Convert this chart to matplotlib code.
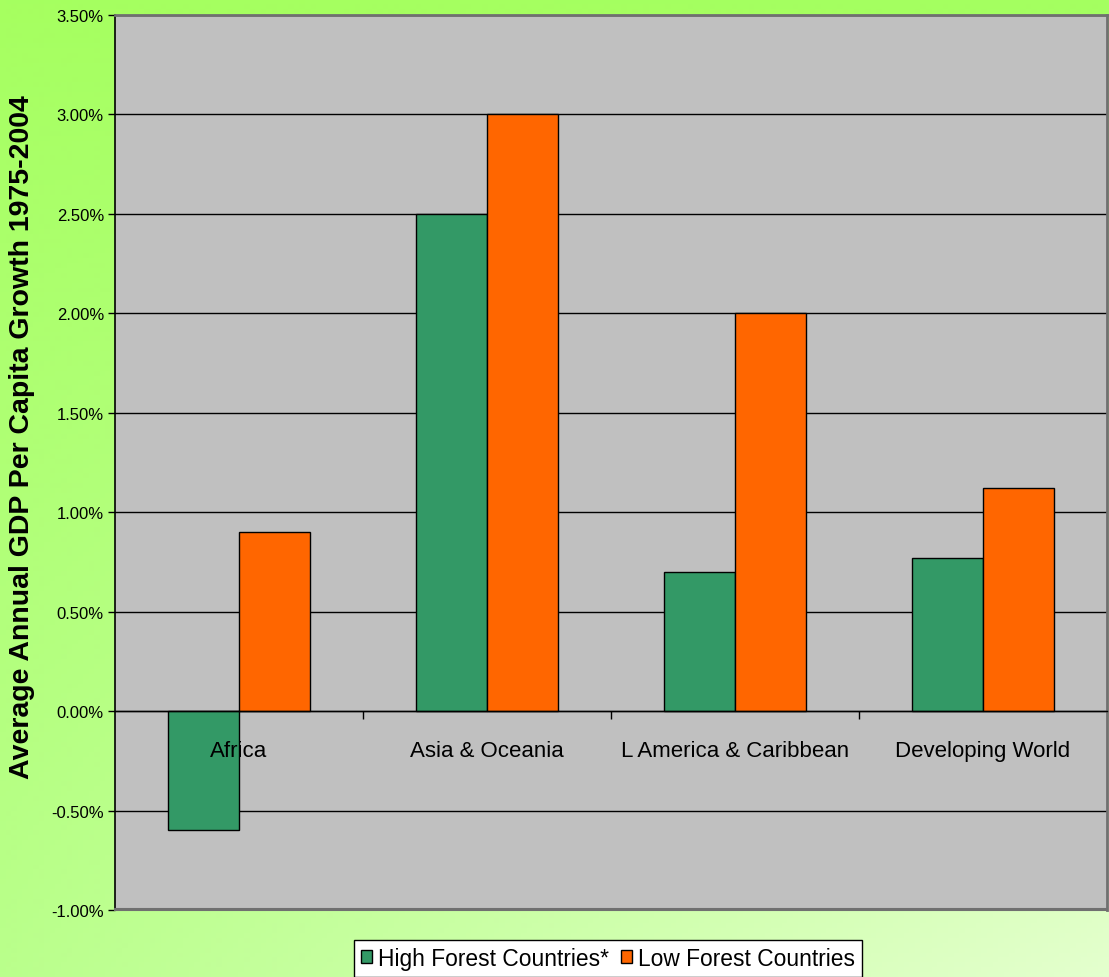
import matplotlib
matplotlib.use('Agg')
import matplotlib.pyplot as plt
import numpy as np
from matplotlib.patches import Rectangle
from matplotlib.ticker import FuncFormatter, FixedLocator

plt.rcParams['font.family'] = ['Liberation Sans', 'DejaVu Sans']

regions = ['Africa', 'Asia & Oceania', 'L America & Caribbean', 'Developing World']
high_forest = [-0.60, 2.50, 0.70, 0.77]
low_forest = [0.90, 3.00, 2.00, 1.12]
series_names = ['High Forest Countries*', 'Low Forest Countries']

W, H = 1109, 978
fig = plt.figure(figsize=(W / 100, H / 100), dpi=100)

# green background, bright at the top and paler toward bottom right
bg = fig.add_axes([0, 0, 1, 1])
u = np.linspace(0, 1, 200)[None, :]
v = np.linspace(0, 1, 200)[:, None]
tl = np.array([166, 255, 96]) / 255
tr = np.array([164, 255, 96]) / 255
bl = np.array([186, 255, 140]) / 255
br = np.array([228, 255, 206]) / 255
img = ((1 - v) * (1 - u))[..., None] * tl + ((1 - v) * u)[..., None] * tr \
    + (v * (1 - u))[..., None] * bl + (v * u)[..., None] * br
bg.imshow(img, aspect='auto', extent=[0, 1, 0, 1], origin='upper')
bg.axis('off')

ax = fig.add_axes([115 / W, 1 - 911 / H, 992 / W, (911 - 16) / H])
ax.set_facecolor('#C0C0C0')

x = np.arange(len(regions))
bw = 0.285
ax.bar(x - bw / 2, high_forest, bw, color='#339966', edgecolor='black', linewidth=1,
       label=series_names[0], zorder=3)
ax.bar(x + bw / 2, low_forest, bw, color='#FF6600', edgecolor='black', linewidth=1,
       label=series_names[1], zorder=3)

ax.set_xlim(-0.5, len(regions) - 0.5)
ax.set_ylim(-1.0, 3.5)
ax.set_yticks(np.arange(-1.0, 3.51, 0.5))
ax.yaxis.set_major_formatter(FuncFormatter(lambda val, p: f'{val:.2f}%'))
ax.tick_params(axis='y', labelsize=12, length=5, width=1, color='black', pad=3)
ax.yaxis.grid(True, color='black', linewidth=1)
ax.set_axisbelow(True)

# category axis sits on the zero line, labels drawn over the bars
ax.spines['bottom'].set_position(('data', 0))
ax.spines['bottom'].set_linewidth(1)
ax.spines['bottom'].set_zorder(4)
ax.xaxis.set_major_locator(FixedLocator([0.5, 1.5, 2.5]))
ax.xaxis.set_major_formatter(FuncFormatter(lambda val, p: ''))
ax.xaxis.set_minor_locator(FixedLocator(list(x)))
ax.set_xticklabels(regions, minor=True)
ax.tick_params(axis='x', which='major', direction='out', length=6, width=1)
ax.tick_params(axis='x', which='minor', length=0, labelsize=16, pad=21)
ax.xaxis.set_zorder(5)

for s in ['top', 'right']:
    ax.spines[s].set_color('#707070')
    ax.spines[s].set_linewidth(2)
ax.spines['left'].set_linewidth(1.2)
ax.add_patch(Rectangle((0, 0), 1, 0.0012, transform=ax.transAxes, facecolor='#707070',
                       edgecolor='#707070', linewidth=1.5, clip_on=False, zorder=6))

fig.text(22 / W, 1 - 437 / H, 'Average Annual GDP Per Capita Growth 1975-2004',
         rotation=90, ha='center', va='center', fontsize=20.5, fontweight='bold')

leg = fig.legend(loc='upper center', bbox_to_anchor=(608 / W, 1 - 941 / H), ncol=2,
                 fontsize=16.4, frameon=True, fancybox=False, edgecolor='black',
                 handlelength=0.5, handleheight=0.5, handletextpad=0.28, columnspacing=0.5,
                 borderpad=0.3, borderaxespad=0)
leg.get_frame().set_linewidth(1)
leg.get_frame().set_facecolor('white')
leg.get_frame().set_alpha(1)

fig.savefig('out.png', dpi=100)
